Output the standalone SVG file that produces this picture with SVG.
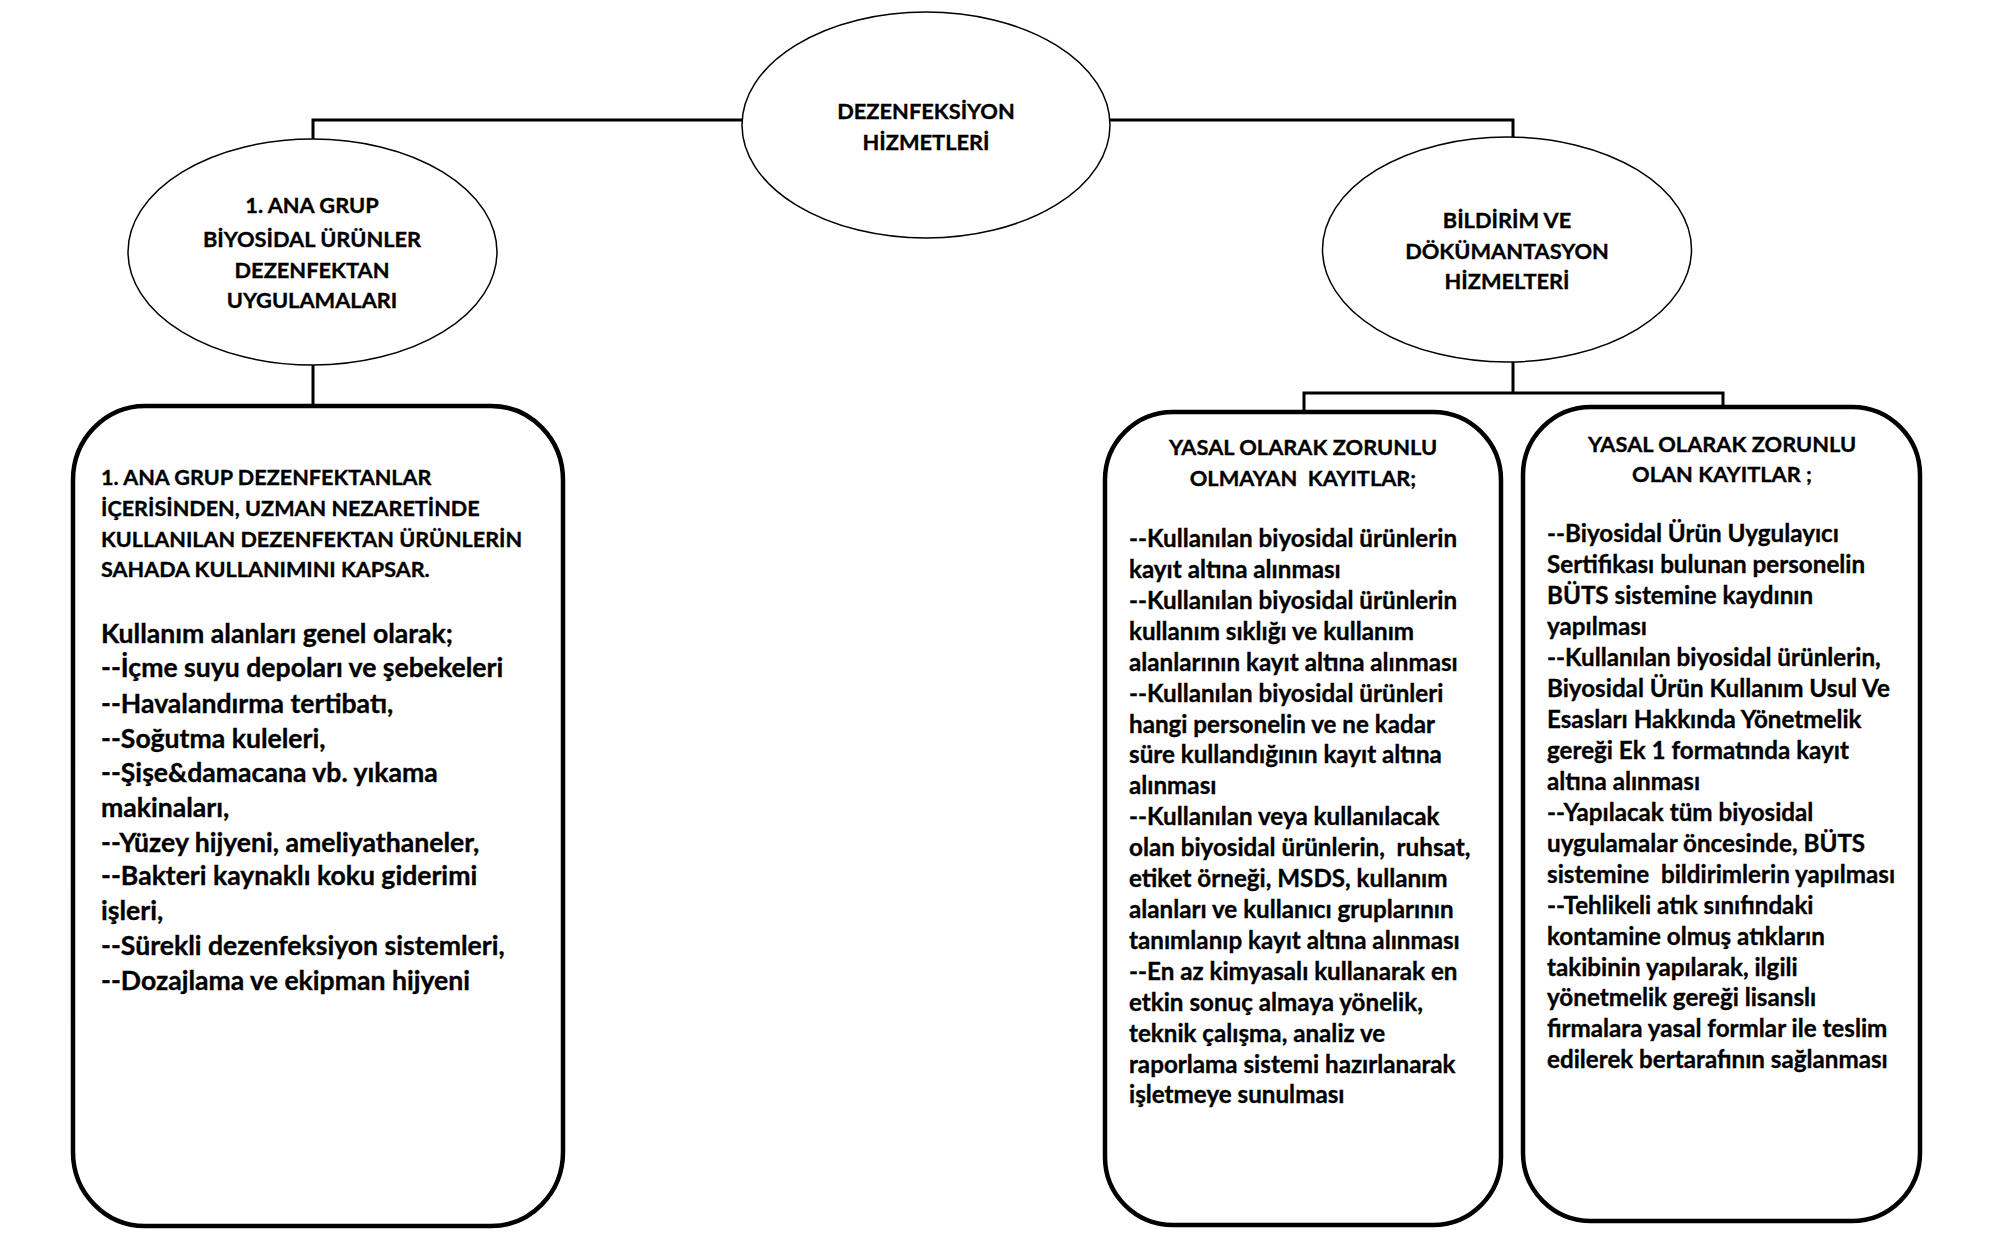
<svg xmlns="http://www.w3.org/2000/svg" width="2003" height="1254" viewBox="0 0 2003 1254">
<style>
.bg{fill:#fff}
.ell{fill:#fff;stroke:#000;stroke-width:1.5}
.box{fill:#fff;stroke:#000;stroke-width:4.5}
.con{fill:none;stroke:#000;stroke-width:3}
text{font-family:Lato,"Open Sans","Liberation Sans",sans-serif;font-weight:bold;fill:#000;white-space:pre;stroke:#000;stroke-width:0.35}
.c{text-anchor:middle;font-size:21.8px}
.h{font-size:21.6px}
.b{font-size:26.6px}
.s{font-size:24.2px}
</style>
<rect class="bg" x="0" y="0" width="2003" height="1254"/>
<g id="connectors">
<path class="con" d="M313,139 V120 H742"/>
<path class="con" d="M1110,120 H1513 V137"/>
<path class="con" d="M313,365 V406"/>
<path class="con" d="M1513,362 V393"/>
<path class="con" d="M1304,412 V393 H1723 V407"/>
</g>
<g id="root">
<ellipse class="ell" cx="926" cy="125" rx="184" ry="113"/>
<text class="c"><tspan x="926" y="119">DEZENFEKSİYON</tspan><tspan x="926" y="150">HİZMETLERİ</tspan></text>
</g>
<g id="group1">
<ellipse class="ell" cx="312.5" cy="252" rx="184.5" ry="113"/>
<text class="c"><tspan x="312" y="213">1. ANA GRUP</tspan><tspan x="312" y="247">BİYOSİDAL ÜRÜNLER</tspan><tspan x="312" y="278">DEZENFEKTAN</tspan><tspan x="312" y="308">UYGULAMALARI</tspan></text>
</g>
<g id="bildirim">
<ellipse class="ell" cx="1507" cy="249.5" rx="184.5" ry="112.5"/>
<text class="c"><tspan x="1507" y="228">BİLDİRİM VE</tspan><tspan x="1507" y="259">DÖKÜMANTASYON</tspan><tspan x="1507" y="289">HİZMELTERİ</tspan></text>
</g>
<g id="box1">
<rect class="box" x="73" y="406" width="490" height="820" rx="72" ry="74"/>
<text class="h"><tspan x="101" y="485">1. ANA GRUP DEZENFEKTANLAR</tspan><tspan x="101" y="516">İÇERİSİNDEN, UZMAN NEZARETİNDE</tspan><tspan x="101" y="547">KULLANILAN DEZENFEKTAN ÜRÜNLERİN</tspan><tspan x="101" y="577">SAHADA KULLANIMINI KAPSAR.</tspan></text>
<text class="b"><tspan x="101" y="643">Kullanım alanları genel olarak;</tspan><tspan x="101" y="677">--İçme suyu depoları ve şebekeleri</tspan><tspan x="101" y="713">--Havalandırma tertibatı,</tspan><tspan x="101" y="748">--Soğutma kuleleri,</tspan><tspan x="101" y="782">--Şişe&amp;damacana vb. yıkama</tspan><tspan x="101" y="817">makinaları,</tspan><tspan x="101" y="852">--Yüzey hijyeni, ameliyathaneler,</tspan><tspan x="101" y="885">--Bakteri kaynaklı koku giderimi</tspan><tspan x="101" y="920">işleri,</tspan><tspan x="101" y="955">--Sürekli dezenfeksiyon sistemleri,</tspan><tspan x="101" y="990">--Dozajlama ve ekipman hijyeni</tspan></text>
</g>
<g id="box2">
<rect class="box" x="1105" y="412" width="396" height="813" rx="68" ry="68"/>
<text class="c"><tspan x="1303" y="455">YASAL OLARAK ZORUNLU</tspan><tspan x="1303" y="486">OLMAYAN  KAYITLAR;</tspan></text>
<text class="s"><tspan x="1129" y="547">--Kullanılan biyosidal ürünlerin</tspan><tspan x="1129" y="578">kayıt altına alınması</tspan><tspan x="1129" y="609">--Kullanılan biyosidal ürünlerin</tspan><tspan x="1129" y="640">kullanım sıklığı ve kullanım</tspan><tspan x="1129" y="671">alanlarının kayıt altına alınması</tspan><tspan x="1129" y="702">--Kullanılan biyosidal ürünleri</tspan><tspan x="1129" y="733">hangi personelin ve ne kadar</tspan><tspan x="1129" y="763">süre kullandığının kayıt altına</tspan><tspan x="1129" y="794">alınması</tspan><tspan x="1129" y="825">--Kullanılan veya kullanılacak</tspan><tspan x="1129" y="856">olan biyosidal ürünlerin,  ruhsat,</tspan><tspan x="1129" y="887">etiket örneği, MSDS, kullanım</tspan><tspan x="1129" y="918">alanları ve kullanıcı gruplarının</tspan><tspan x="1129" y="949">tanımlanıp kayıt altına alınması</tspan><tspan x="1129" y="980">--En az kimyasalı kullanarak en</tspan><tspan x="1129" y="1011">etkin sonuç almaya yönelik,</tspan><tspan x="1129" y="1042">teknik çalışma, analiz ve</tspan><tspan x="1129" y="1073">raporlama sistemi hazırlanarak</tspan><tspan x="1129" y="1103">işletmeye sunulması</tspan></text>
</g>
<g id="box3">
<rect class="box" x="1523" y="407" width="397" height="814" rx="68" ry="68"/>
<text class="c"><tspan x="1722" y="452">YASAL OLARAK ZORUNLU</tspan><tspan x="1722" y="482">OLAN KAYITLAR ;</tspan></text>
<text class="s"><tspan x="1547" y="542">--Biyosidal Ürün Uygulayıcı</tspan><tspan x="1547" y="573">Sertifikası bulunan personelin</tspan><tspan x="1547" y="604">BÜTS sistemine kaydının</tspan><tspan x="1547" y="635">yapılması</tspan><tspan x="1547" y="666">--Kullanılan biyosidal ürünlerin,</tspan><tspan x="1547" y="697">Biyosidal Ürün Kullanım Usul Ve</tspan><tspan x="1547" y="728">Esasları Hakkında Yönetmelik</tspan><tspan x="1547" y="759">gereği Ek 1 formatında kayıt</tspan><tspan x="1547" y="790">altına alınması</tspan><tspan x="1547" y="821">--Yapılacak tüm biyosidal</tspan><tspan x="1547" y="852">uygulamalar öncesinde, BÜTS</tspan><tspan x="1547" y="883">sistemine  bildirimlerin yapılması</tspan><tspan x="1547" y="914">--Tehlikeli atık sınıfındaki</tspan><tspan x="1547" y="945">kontamine olmuş atıkların</tspan><tspan x="1547" y="976">takibinin yapılarak, ilgili</tspan><tspan x="1547" y="1006">yönetmelik gereği lisanslı</tspan><tspan x="1547" y="1037">firmalara yasal formlar ile teslim</tspan><tspan x="1547" y="1068">edilerek bertarafının sağlanması</tspan></text>
</g>
</svg>
